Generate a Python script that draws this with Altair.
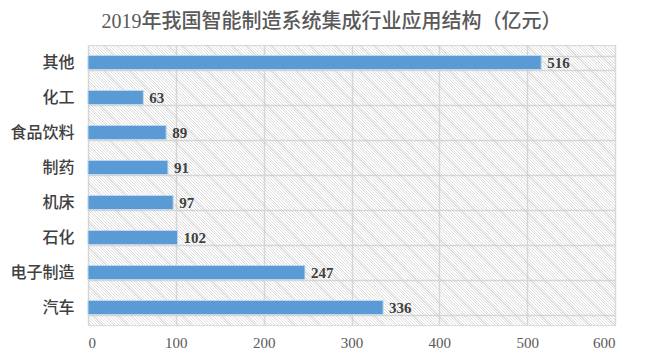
import altair as alt
import pandas as pd

categories = ["其他", "化工", "食品饮料", "制药", "机床", "石化", "电子制造", "汽车"]
values = [516, 63, 89, 91, 97, 102, 247, 336]
x_ticks = [0, 100, 200, 300, 400, 500, 600]

df = pd.DataFrame({"cat": categories, "val": values})
bg = pd.DataFrame({"x0": [0], "x1": [600]})

W, H = 527, 280
r = H / W
k = (1 + r) / (1 + r * r)
N = 290
f = 0.4
stops = []
for i in range(N):
    a = i / N
    b = (i + f) / N
    c = (i + 1) / N
    stops += [
        alt.GradientStop(offset=a, color="rgba(200,200,200,0.6)"),
        alt.GradientStop(offset=b, color="rgba(200,200,200,0.6)"),
        alt.GradientStop(offset=b, color="rgba(255,255,255,0)"),
        alt.GradientStop(offset=c, color="rgba(255,255,255,0)"),
    ]
hatch = alt.LinearGradient(gradient="linear", stops=stops, x1=0, y1=1, x2=k, y2=1 - k * r)

FONT = "Liberation Serif, Noto Sans CJK SC"
xscale = alt.Scale(domain=[0, 600], nice=False)
yscale = alt.Scale(domain=categories, paddingInner=0.6, paddingOuter=0.3)

xaxis = alt.Axis(
    values=x_ticks, grid=True, gridColor="#d9d9d9", gridWidth=1.5,
    domain=False, ticks=False, labelFontSize=15, labelColor="#595959",
    labelFont=FONT, labelFontWeight=500, labelPadding=10,
)
yaxis = alt.Axis(
    grid=True, tickBand="extent", gridColor="#d9d9d9", gridWidth=1.5,
    domain=False, ticks=False, labelFontSize=16, labelColor="#404040",
    labelFont=FONT, labelFontWeight=500, labelPadding=14,
)

back = alt.Chart(bg).mark_rect(color=hatch).encode(
    x=alt.X("x0:Q", scale=xscale, title=None, axis=xaxis),
    x2="x1:Q",
)

bars = alt.Chart(df).mark_bar(color="#5b9bd5", stroke="#bdd7ee", strokeWidth=1).encode(
    x=alt.X("val:Q", scale=xscale, title=None, axis=xaxis),
    y=alt.Y("cat:N", sort=categories, scale=yscale, title=None, axis=yaxis),
)

labels = alt.Chart(df).mark_text(
    align="left", baseline="middle", dx=6, fontSize=15, fontWeight="bold",
    font=FONT, color="#404040",
).encode(
    x=alt.X("val:Q", scale=xscale),
    y=alt.Y("cat:N", sort=categories, scale=yscale),
    text="val:Q",
)

chart = alt.layer(back, bars, labels).properties(
    width=W,
    height=H,
    title=alt.TitleParams(
        "2019年我国智能制造系统集成行业应用结构（亿元）",
        fontSize=20, font=FONT, fontWeight=500, color="#595959",
        anchor="middle", dx=-20, offset=5,
    ),
    autosize=alt.AutoSizeParams(type="none"),
    padding={"left": 80, "top": 37, "right": 22, "bottom": 25},
).configure_view(stroke="#d9d9d9", strokeWidth=1.5).configure(background="white")

chart.save("out.html", embed_options={"renderer": "svg", "actions": False})
